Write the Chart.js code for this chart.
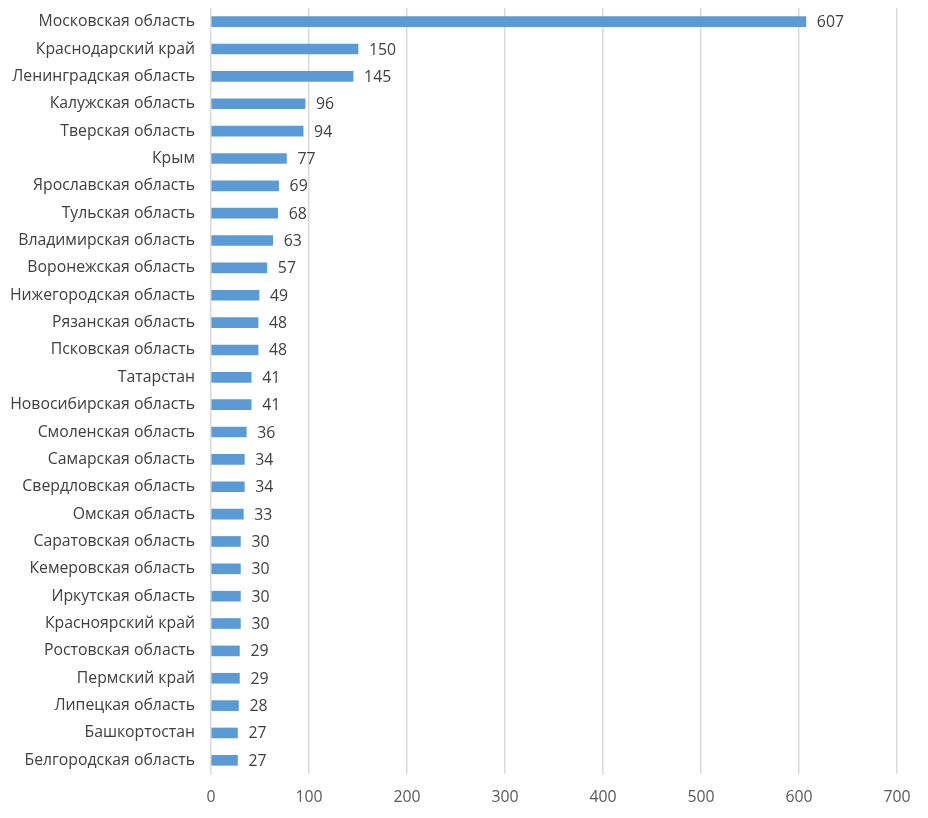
<!DOCTYPE html>
<html>
<head>
<meta charset="utf-8">
<script src="https://cdn.jsdelivr.net/npm/chart.js@4/dist/chart.umd.min.js"></script>
<style>
  html, body { margin: 0; padding: 0; background: #fff; }
  #wrap { width: 928px; height: 818px; }
</style>
</head>
<body>
<div id="wrap"><canvas id="regionsChart"></canvas></div>
<script>
const regions = [
  "Московская область", "Краснодарский край", "Ленинградская область", "Калужская область",
  "Тверская область", "Крым", "Ярославская область", "Тульская область",
  "Владимирская область", "Воронежская область", "Нижегородская область", "Рязанская область",
  "Псковская область", "Татарстан", "Новосибирская область", "Смоленская область",
  "Самарская область", "Свердловская область", "Омская область", "Саратовская область",
  "Кемеровская область", "Иркутская область", "Красноярский край", "Ростовская область",
  "Пермский край", "Липецкая область", "Башкортостан", "Белгородская область"
];
const counts = [607, 150, 145, 96, 94, 77, 69, 68, 63, 57, 49, 48, 48, 41, 41, 36, 34, 34, 33, 30, 30, 30, 30, 29, 29, 28, 27, 27];
const xTicks = [0, 100, 200, 300, 400, 500, 600, 700];

const fontFamily = "'Open Sans', 'Noto Sans', sans-serif";
const textColor = "#595959";

// value labels to the right of each bar
const valueLabels = {
  id: "valueLabels",
  afterDatasetsDraw(chart) {
    const ctx = chart.ctx;
    const meta = chart.getDatasetMeta(0);
    ctx.save();
    ctx.font = "15.8px " + fontFamily;
    ctx.fillStyle = "#404040";
    ctx.textAlign = "left";
    ctx.textBaseline = "middle";
    meta.data.forEach((bar, i) => {
      ctx.fillText(String(counts[i]), bar.x + 11, bar.y + 1);
    });
    ctx.restore();
  }
};

new Chart(document.getElementById("regionsChart"), {
  type: "bar",
  data: {
    labels: regions,
    datasets: [{
      data: counts,
      backgroundColor: "#5B9BD5",
      barThickness: 10
    }]
  },
  options: {
    indexAxis: "y",
    responsive: true,
    maintainAspectRatio: false,
    animation: false,
    layout: { padding: { top: 8, right: 31, left: 0, bottom: 0 } },
    plugins: {
      legend: { display: false },
      tooltip: { enabled: false }
    },
    scales: {
      x: {
        min: 0,
        max: 700,
        afterBuildTicks: (scale) => { scale.ticks = xTicks.map(v => ({ value: v })); },
        afterFit: (scale) => { scale.height = 44; scale.paddingLeft = 0; scale.paddingRight = 0; },
        grid: { color: "#d9d9d9", lineWidth: 1.5, drawTicks: false },
        border: { display: false },
        ticks: { color: textColor, font: { family: fontFamily, size: 15.8 }, padding: 14 }
      },
      y: {
        afterFit: (scale) => { scale.width = 211; scale.paddingTop = 0; scale.paddingBottom = 0; },
        grid: { display: false, drawTicks: false },
        border: { display: false },
        ticks: { color: "#404040", font: { family: fontFamily, size: 15.8 }, padding: 16, autoSkip: false }
      }
    }
  },
  plugins: [valueLabels]
});
</script>
</body>
</html>
